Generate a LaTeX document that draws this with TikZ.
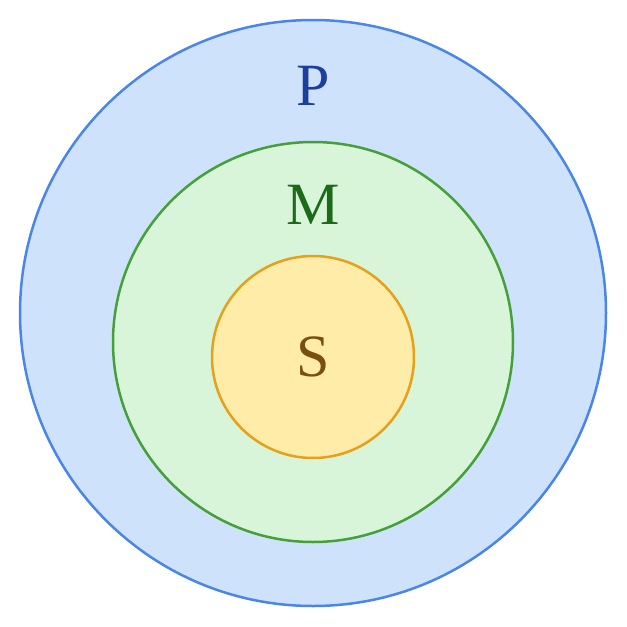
\documentclass[tikz,border=0pt]{standalone}
\usepackage{fontspec}
\setmainfont{Liberation Serif}
\usetikzlibrary{positioning}
\definecolor{pfill}{HTML}{CFE2FB}
\definecolor{pline}{HTML}{4A86E8}
\definecolor{ptext}{HTML}{1C3F9E}
\definecolor{mfill}{HTML}{D9F5D9}
\definecolor{mline}{HTML}{45A03A}
\definecolor{mtext}{HTML}{1B6B1B}
\definecolor{sfill}{HTML}{FFECA8}
\definecolor{sline}{HTML}{E4A11B}
\definecolor{stext}{HTML}{7A4E0E}
\tikzset{
	set/.style={
		circle,
		line width=2.5pt,
		inner sep=0pt
	},
	letter/.style={
		anchor=base,
		font=\fontsize{60}{60}\selectfont
	},
}
\begin{document}
\begin{tikzpicture}[x=1pt,y=-1pt]
			\useasboundingbox (0,0) rectangle (627,627);
			\node[set,draw=pline,fill=pfill,minimum size=586pt] (outer) at (313,313) {};
			\node[set,draw=mline,fill=mfill,minimum size=400pt] (middle) at (313,342) {};
			\node[set,draw=sline,fill=sfill,minimum size=202pt] (inner) at (313,357) {};
			\node[letter,text=ptext] (p) at (313,105) {P};
			\node[letter,text=mtext] (m) at (313,224) {M};
			\node[letter,text=stext] (s) at (313,376) {S};
\end{tikzpicture}
\end{document}
